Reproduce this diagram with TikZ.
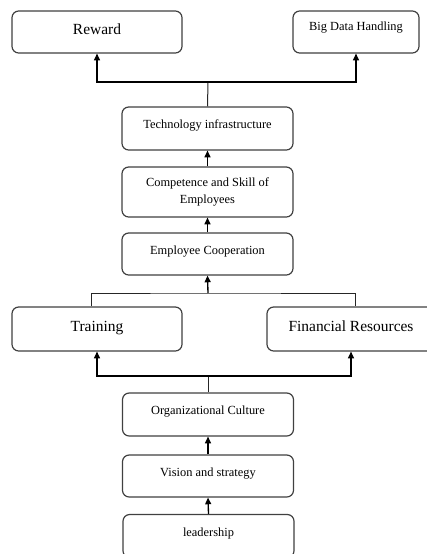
\documentclass[tikz,border=0pt]{standalone}
\usepackage{fontspec}
\setmainfont{Liberation Serif}
\usetikzlibrary{arrows.meta}

\begin{document}
\begin{tikzpicture}[x=0.75pt, y=-0.75pt, >={Triangle[length=5pt,width=4.5pt]}, line width=0.75pt, draw=black!85]
			\tikzstyle{box}=[draw=black!75, line width=0.9pt, rectangle, rounded corners=5pt, fill=white, minimum width=128.25pt, minimum height=32.25pt, inner sep=2pt, font=\fontsize{9.3}{12.5}\selectfont, text height=6.5pt, text depth=6pt]
			\tikzstyle{bigbox}=[box, minimum width=127.5pt, minimum height=33pt, font=\fontsize{11.6}{14}\selectfont, text height=8pt, text depth=4.5pt]
			\tikzstyle{arr}=[->, line width=1pt, black]
			\tikzstyle{line}=[-, line width=0.75pt, black!85]
			
			\clip (0,0) rectangle (427,554);
			\useasboundingbox (0,0) rectangle (427,554);
			
			\node[box] (lead) at (208.5,536) {leadership};
			\node[box, minimum height=31.5pt] (vision) at (208,476) {Vision and strategy};
			\node[box] (org) at (208,414.5) {Organizational Culture};
			\node[bigbox] (train) at (97,329) {Training};
			\node[bigbox, minimum width=126pt] (fin) at (351,329) {Financial Resources};
			\node[box, minimum height=31.5pt] (coop) at (207.5,254) {Employee Cooperation};
			\node[box, minimum height=37.5pt, text height=, text depth=, align=center] (comp) at (207.5,192) {Competence and Skill of\\Employees};
			\node[box] (tech) at (207.5,128.5) {Technology infrastructure};
			\node[bigbox, minimum height=31.5pt] (reward) at (97,32) {Reward};
			\node[box, minimum width=94.5pt, minimum height=31.5pt, text height=6pt, text depth=8.5pt] (bigdata) at (356,32) {Big Data Handling};
			
			\coordinate (j1) at (208,376);
			\coordinate (j2) at (208,293);
			\coordinate (j3) at (208,82);
			
			\draw[arr] (lead.north) -- (vision.south);
			\draw[arr] (vision.north) -- (org.south);
			\draw[line] (org.north) -- (j1);
			\draw[arr] (j1) -| (train);
			\draw[arr] (j1) -| (fin);
			\draw[line] ([xshift=-4.5pt]train.north) |- (j2) -| ([xshift=3pt]fin.north);
			\draw[arr] (j2) -- (coop.south);
			\draw[arr] (coop.north) -- (comp.south);
			\draw[arr] (comp.north) -- (tech.south);
			\draw[line] (tech.north) -- (j3);
			\draw[arr] (j3) -| (reward);
			\draw[arr] (j3) -| (bigdata);
		\end{tikzpicture}
\end{document}
